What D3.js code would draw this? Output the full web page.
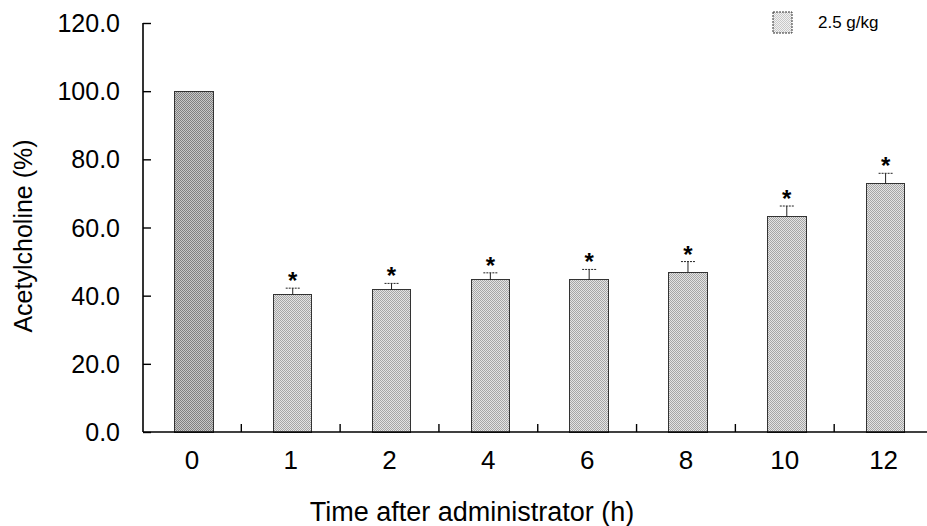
<!DOCTYPE html>
<html>
<head>
<meta charset="utf-8">
<script src="https://cdn.jsdelivr.net/npm/d3@7/dist/d3.min.js"></script>
<style>
  html, body { margin: 0; padding: 0; background: #fff; }
  svg { display: block; font-family: "Liberation Sans", Arial, Helvetica, sans-serif; }
</style>
</head>
<body>
<svg id="chart" width="927" height="526"></svg>
<script>
// ---- data ----
const categories = ["0", "1", "2", "4", "6", "8", "10", "12"];
const means      = [100.0, 40.2, 41.7, 44.6, 44.6, 46.9, 63.2, 72.8];
const errors     = [0, 2.0, 1.9, 2.1, 3.1, 3.1, 3.1, 3.1];
const significant = [false, true, true, true, true, true, true, true];
const yTicks     = [0, 20, 40, 60, 80, 100, 120];
const legendLabel = "2.5 g/kg";
const xTitle = "Time after administrator (h)";
const yTitle = "Acetylcholine (%)";

// ---- layout ----
const svg = d3.select("#chart");
const mLeft = 143, mRight = 935, mTop = 23, mBottom = 432;

const x = d3.scaleBand().domain(categories).range([mLeft + 1.5, mRight])
  .paddingInner(0.61).paddingOuter(0.305);
const y = d3.scaleLinear().domain([0, 120]).range([mBottom, mTop]);

// patterns (stipple)
const defs = svg.append("defs");
function stipple(id, dark, light) {
  const p = defs.append("pattern").attr("id", id).attr("patternUnits", "userSpaceOnUse")
    .attr("width", 2).attr("height", 2);
  p.append("rect").attr("width", 2).attr("height", 2).attr("fill", light);
  p.append("rect").attr("width", 1).attr("height", 1).attr("fill", dark);
  p.append("rect").attr("x", 1).attr("y", 1).attr("width", 1).attr("height", 1).attr("fill", dark);
}
stipple("stipDark", "#808080", "#c8c8c8");
stipple("stipLight", "#a6a6a6", "#e4e4e4");
stipple("stipLegend", "#c8c8c8", "#f2f2f2");

// bars
svg.append("g").selectAll("rect").data(categories).join("rect")
  .attr("x", d => x(d))
  .attr("y", (d, i) => y(means[i]))
  .attr("width", x.bandwidth())
  .attr("height", (d, i) => y(0) - y(means[i]))
  .attr("fill", (d, i) => i === 0 ? "url(#stipDark)" : "url(#stipLight)")
  .attr("stroke", "#333")
  .attr("stroke-width", 1)
  .attr("shape-rendering", "crispEdges");

// error bars
const eb = svg.append("g").attr("stroke", "#222").attr("stroke-width", 1);
categories.forEach((d, i) => {
  if (!errors[i]) return;
  const cx = x(d) + x.bandwidth() / 2;
  eb.append("line").attr("x1", cx).attr("x2", cx)
    .attr("y1", y(means[i])).attr("y2", y(means[i] + errors[i]));
  eb.append("line").attr("x1", cx - 7).attr("x2", cx + 7)
    .attr("y1", y(means[i] + errors[i])).attr("y2", y(means[i] + errors[i]))
    .attr("stroke-dasharray", "2,1");
});

// asterisks
svg.append("g").selectAll("text").data(categories).join("text")
  .filter((d, i) => significant[i])
  .attr("x", d => x(d) + x.bandwidth() / 2)
  .attr("y", d => { const i = categories.indexOf(d); return y(means[i] + errors[i]) + 1; })
  .attr("text-anchor", "middle")
  .attr("font-size", 24).attr("font-weight", "bold")
  .text("*");

// y axis
const yAxis = d3.axisRight(y).tickValues(yTicks).tickSize(8).tickFormat("");
const ya = svg.append("g").attr("transform", `translate(${mLeft},0)`).call(yAxis);
ya.select(".domain").attr("d", `M0,${mTop}V${mBottom}`).attr("stroke", "#000").attr("stroke-width", 1.6);
ya.selectAll(".tick line").attr("stroke", "#000").attr("stroke-width", 1.4);

svg.append("g").selectAll("text").data(yTicks).join("text")
  .attr("x", 120).attr("y", d => y(d) + 9)
  .attr("text-anchor", "end").attr("font-size", 25).attr("fill", "#000")
  .text(d => d.toFixed(1));

// x axis
svg.append("line").attr("x1", mLeft).attr("x2", 927).attr("y1", mBottom).attr("y2", mBottom)
  .attr("stroke", "#000").attr("stroke-width", 1.6);
const step = x.step();
svg.append("g").selectAll("line").data(categories.slice(0, -1)).join("line")
  .attr("x1", d => x(d) + x.bandwidth() / 2 + step / 2 - 2)
  .attr("x2", d => x(d) + x.bandwidth() / 2 + step / 2 - 2)
  .attr("y1", mBottom).attr("y2", mBottom - 8)
  .attr("stroke", "#000").attr("stroke-width", 1.4);

svg.append("g").selectAll("text").data(categories).join("text")
  .attr("x", d => x(d) + x.bandwidth() / 2 - 2)
  .attr("y", 469)
  .attr("text-anchor", "middle").attr("font-size", 26)
  .text(d => d);

// titles
svg.append("text").attr("x", 472).attr("y", 521).attr("text-anchor", "middle")
  .attr("font-size", 27).text(xTitle);
svg.append("text").attr("transform", "translate(32,236) rotate(-90)")
  .attr("text-anchor", "middle").attr("font-size", 25).text(yTitle);

// legend
svg.append("rect").attr("x", 773).attr("y", 12).attr("width", 19).attr("height", 21)
  .attr("fill", "url(#stipLegend)").attr("stroke", "#333").attr("stroke-width", 1)
  .attr("stroke-dasharray", "2,1");
svg.append("text").attr("x", 818).attr("y", 28).attr("font-size", 17).text(legendLabel);
</script>
</body>
</html>
